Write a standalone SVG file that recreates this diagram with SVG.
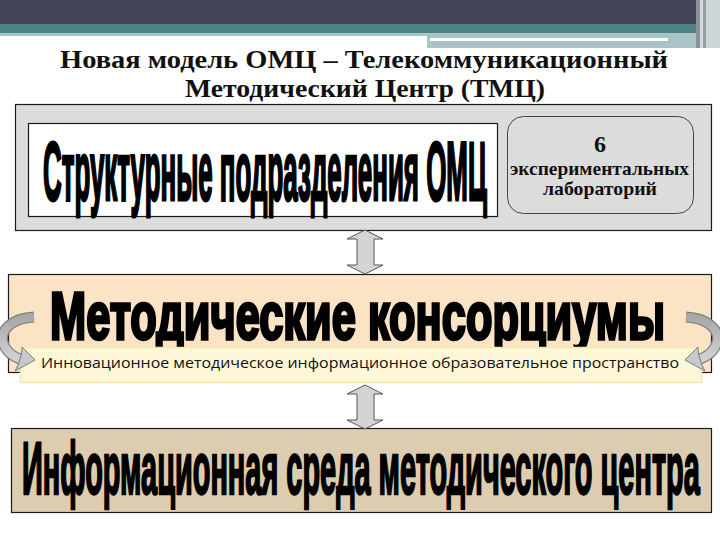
<svg xmlns="http://www.w3.org/2000/svg" width="720" height="540" viewBox="0 0 720 540">
<defs>
<style>
.title{font-family:"Liberation Serif","Times New Roman",serif;font-weight:bold;font-size:26px;fill:#111;text-anchor:start}
.lab{font-family:"Liberation Serif","Times New Roman",serif;font-weight:bold;fill:#111}
.art{font-family:"Liberation Sans",Arial,sans-serif;font-weight:bold;fill:#000;stroke:#000}
.sans{font-family:"Open Sans","Noto Sans","Liberation Sans",sans-serif;font-size:15px;fill:#111}
.dbl{fill:#d4d4d4;stroke:#555;stroke-width:1}
.box{stroke:#1a1a1a;stroke-width:1.2}
</style>
<linearGradient id="curv" x1="0" y1="0" x2="0" y2="1">
<stop offset="0" stop-color="#a8a8a8"/><stop offset="1" stop-color="#d2d2d2"/>
</linearGradient>
</defs>
<rect width="720" height="540" fill="#fff"/>
<g id="header">
<rect x="0" y="0" width="720" height="24" fill="#434456"/>
<rect x="0" y="24" width="720" height="9" fill="#4a8285"/>
<rect x="0" y="33" width="427" height="3" fill="#a9c5c8"/>
<rect x="427" y="33" width="270" height="15" fill="#a9c4c7"/>
<rect x="430" y="38" width="238" height="3" fill="#fff"/>
<rect x="696" y="0" width="4" height="48" fill="#8d8f99"/>
<rect x="700" y="0" width="3" height="48" fill="#d6d8de"/>
<rect x="703" y="0" width="3" height="48" fill="#9a9ca6"/>
<rect x="706" y="0" width="14" height="48" fill="#cdd5d7"/>
</g>
<g id="title">
<text class="title" x="60" y="68" textLength="608" lengthAdjust="spacingAndGlyphs">Новая модель ОМЦ – Телекоммуникационный</text>
<text class="title" x="185" y="97" textLength="360" lengthAdjust="spacingAndGlyphs">Методический Центр (ТМЦ)</text>
</g>
<g id="top-block">
<rect class="box" x="15.5" y="104.5" width="696" height="126" fill="#dcdcdc"/>
</g>
<g id="structural">
<rect class="box" x="28.5" y="123.5" width="469" height="93" fill="#fff"/>
<text class="art" transform="translate(43,200) scale(0.804,2.6)" font-size="32" stroke-width="1.2" textLength="552" lengthAdjust="spacingAndGlyphs">Структурные подразделения ОМЦ</text>
</g>
<g id="labs">
<rect x="507.5" y="116.5" width="186" height="97" rx="16" ry="16" fill="#dcdcdc" stroke="#444" stroke-width="1"/>
<text class="lab" x="600" y="152" font-size="24" text-anchor="middle">6</text>
<text class="lab" x="510" y="175" font-size="19" textLength="179" lengthAdjust="spacingAndGlyphs">экспериментальных</text>
<text class="lab" x="543" y="195" font-size="19" textLength="114" lengthAdjust="spacingAndGlyphs">лабораторий</text>
</g>
<g id="consortia">
<rect class="box" x="8.5" y="274.5" width="703" height="98" fill="#fbe4c6"/>
<text class="art" transform="translate(50,339) scale(1.11,1.65)" font-size="40" stroke-width="2" textLength="554" lengthAdjust="spacingAndGlyphs">Методические консорциумы</text>
</g>
<g id="space">
<rect x="20.5" y="347.5" width="681" height="35" fill="#fdf7d8" stroke="#efe9ad" stroke-width="1.5"/>
<text class="sans" x="41" y="368" textLength="638" lengthAdjust="spacingAndGlyphs">Инновационное методическое информационное образовательное пространство</text>
</g>
<g id="info-env">
<rect class="box" x="11.5" y="428.5" width="700" height="84" fill="#ddcdb0"/>
<text class="art" transform="translate(22,494) scale(0.886,2.3)" font-size="32" stroke-width="1.1" textLength="765" lengthAdjust="spacingAndGlyphs">Информационная среда методического центра</text>
</g>
<g id="connectors">
<path class="dbl" d="M365,230 L383,239 L374,239 L374,265 L383,265 L365,274 L347,265 L357,265 L357,239 L347,239 Z"/>
<path class="dbl" d="M365,385 L383,394 L374,394 L374,420 L383,420 L365,429 L347,420 L357,420 L357,394 L347,394 Z"/>
<g id="loop-left">
<path d="M34,317 C12,318 0,330 3,342 C5,350 12,356 20,359" fill="none" stroke="#7f7f7f" stroke-width="11"/>
<path d="M34,317 C12,318 0,330 3,342 C5,350 12,356 20,359" fill="none" stroke="url(#curv)" stroke-width="8.5"/>
<path d="M35,360 L22,347 L21.5,354 L18,365 L15,371 Z" fill="#c8c8c8" stroke="#7f7f7f" stroke-width="1"/>
</g>
<g id="loop-right" transform="translate(720,0) scale(-1,1)">
<path d="M34,317 C12,318 0,330 3,342 C5,350 12,356 20,359" fill="none" stroke="#7f7f7f" stroke-width="11"/>
<path d="M34,317 C12,318 0,330 3,342 C5,350 12,356 20,359" fill="none" stroke="url(#curv)" stroke-width="8.5"/>
<path d="M35,360 L22,347 L21.5,354 L18,365 L15,371 Z" fill="#c8c8c8" stroke="#7f7f7f" stroke-width="1"/>
</g>
</g>
</svg>
